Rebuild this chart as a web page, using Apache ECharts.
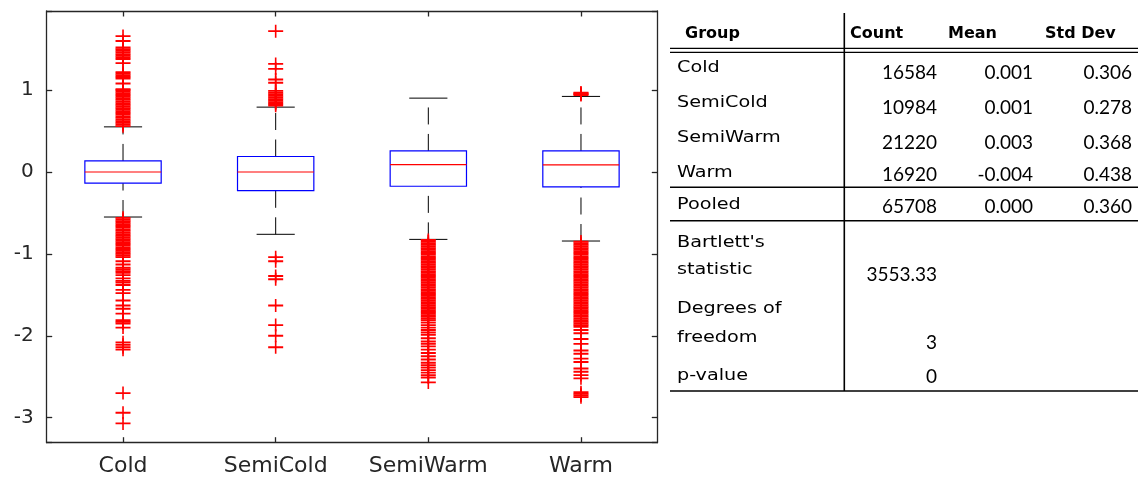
<!DOCTYPE html>
<html>
<head>
<meta charset="utf-8">
<script src="https://cdn.jsdelivr.net/npm/echarts@6/dist/echarts.min.js"></script>
<style>
  html, body { margin: 0; padding: 0; background: #ffffff; }
  #chart { width: 1144px; height: 479px; }
</style>
</head>
<body>
<div id="chart"></div>
<script>
// ---- box plot summary per group ----
const categories   = ['Cold', 'SemiCold', 'SemiWarm', 'Warm'];
const lowerWhisker = [-0.550, -0.761, -0.823, -0.843];
const quartile1    = [-0.137, -0.227, -0.174, -0.183];
const medians      = [0.000, 0.000, 0.091, 0.086];
const quartile3    = [0.135, 0.189, 0.257, 0.257];
const upperWhisker = [0.551, 0.792, 0.902, 0.923];

// ---- outliers per group ----
const coldOutliers = [
  0.56, 0.58, 0.60, 0.62, 0.64, 0.66, 0.68, 0.70, 0.72, 0.74, 0.76, 0.78, 0.80, 0.82,
  0.84, 0.86, 0.88, 0.90, 0.92, 0.94, 0.96, 0.98, 1.00, 1.01,
  1.08, 1.14, 1.16, 1.18, 1.20, 1.22, 1.33, 1.38, 1.40, 1.42, 1.44, 1.46, 1.48, 1.50,
  1.52, 1.60, 1.66,
  -0.56, -0.58, -0.60, -0.62, -0.64, -0.66, -0.68, -0.70, -0.72, -0.74, -0.76, -0.78,
  -0.80, -0.82, -0.84, -0.86, -0.88, -0.90, -0.92, -0.94, -0.96, -0.98, -1.00, -1.02, -1.04,
  -1.09, -1.13, -1.17, -1.19, -1.21, -1.23, -1.26, -1.30, -1.33, -1.35, -1.38, -1.44,
  -1.48, -1.57, -1.63, -1.67, -1.73, -1.81, -1.83, -1.85, -1.90, -2.08, -2.11, -2.14,
  -2.17, -2.70, -2.94, -3.07
];
const semiColdOutliers = [
  0.81, 0.83, 0.85, 0.87, 0.89, 0.91, 0.93, 0.95, 0.97, 0.99, 1.09, 1.13, 1.26, 1.32, 1.72,
  -1.04, -1.09, -1.27, -1.31, -1.63, -1.87, -2.00, -2.14
];
const semiWarmOutliers = [
  -0.83, -0.85, -0.87, -0.89, -0.91, -0.93, -0.95, -0.97, -0.99, -1.01, -1.03, -1.05,
  -1.07, -1.09, -1.11, -1.13, -1.15, -1.17, -1.19, -1.21, -1.23, -1.25, -1.27, -1.29,
  -1.31, -1.33, -1.35, -1.37, -1.39, -1.41, -1.43, -1.45, -1.47, -1.49, -1.51, -1.53,
  -1.55, -1.57, -1.59, -1.61, -1.63, -1.65, -1.67, -1.69, -1.71, -1.73, -1.75, -1.77,
  -1.79, -1.81, -1.84, -1.87, -1.90, -1.93, -1.96, -1.99, -2.03, -2.07, -2.10, -2.13,
  -2.17, -2.21, -2.25, -2.29, -2.33, -2.36, -2.39, -2.42, -2.45, -2.48, -2.51, -2.57
];
const warmOutliers = [
  0.94, 0.95, 0.96, 0.97,
  -0.85, -0.87, -0.89, -0.91, -0.93, -0.95, -0.97, -0.99, -1.01, -1.03, -1.05, -1.07,
  -1.09, -1.11, -1.13, -1.15, -1.17, -1.19, -1.21, -1.23, -1.25, -1.27, -1.29, -1.31,
  -1.33, -1.35, -1.37, -1.39, -1.41, -1.43, -1.45, -1.47, -1.49, -1.51, -1.53, -1.55,
  -1.57, -1.59, -1.61, -1.63, -1.65, -1.67, -1.69, -1.71, -1.73, -1.75, -1.77, -1.79,
  -1.81, -1.83, -1.85, -1.87, -1.89, -1.93, -1.97, -2.04, -2.10, -2.18, -2.22, -2.28,
  -2.32, -2.40, -2.44, -2.48, -2.52, -2.69, -2.71, -2.73, -2.75
];

// ---- value axis limits ----
const yMin = -3.306;
const yMax = 1.966;

// ---- summary table ----
const tableHeader = ['Group', 'Count', 'Mean', 'Std Dev'];
const groupNames  = ['Cold', 'SemiCold', 'SemiWarm', 'Warm'];
const groupCounts = ['16584', '10984', '21220', '16920'];
const groupMeans  = ['0.001', '0.001', '0.003', '-0.004'];
const groupStds   = ['0.306', '0.278', '0.368', '0.438'];
const pooledRow   = ['Pooled', '65708', '0.000', '0.360'];
const testLabels  = [["Bartlett's", 'statistic'], ['Degrees of', 'freedom'], ['p-value']];
const testValues  = ['3553.33', '3', '0'];

// ---------------------------------------------------------------
const chart = echarts.init(document.getElementById('chart'), null, { renderer: 'canvas' });

const AXIS_COLOR = '#262626';
const boxData = categories.map((c, i) =>
  [i, lowerWhisker[i], quartile1[i], medians[i], quartile3[i], upperWhisker[i]]);

const outlierGroups = [coldOutliers, semiColdOutliers, semiWarmOutliers, warmOutliers];
const outlierData = [];
outlierGroups.forEach((arr, i) => arr.forEach(v => outlierData.push([i, v])));

// plus-sign marker
const PLUS = 'path://M0,6H15V8H0Z M6.7,0H8.3V14H6.7Z';

function renderBox(params, api) {
  const i = api.value(0);
  const lw = api.value(1), q1 = api.value(2), md = api.value(3), q3 = api.value(4), uw = api.value(5);
  const x = api.coord([i, 0])[0];
  const band = api.size([1, 0])[0];
  const half = band * 0.25;
  const cap = band * 0.125;
  const Y = v => api.coord([i, v])[1];
  const dash = { stroke: '#000000', lineWidth: 1, lineDash: [17, 9.5] };
  const solid = { stroke: '#000000', lineWidth: 1 };
  return {
    type: 'group',
    children: [
      { type: 'line', shape: { x1: x, y1: Y(q3), x2: x, y2: Y(uw) }, style: dash },
      { type: 'line', shape: { x1: x, y1: Y(lw), x2: x, y2: Y(q1) }, style: dash },
      { type: 'line', shape: { x1: x - cap, y1: Y(uw), x2: x + cap, y2: Y(uw) }, style: solid },
      { type: 'line', shape: { x1: x - cap, y1: Y(lw), x2: x + cap, y2: Y(lw) }, style: solid },
      { type: 'rect', shape: { x: x - half, y: Y(q3), width: 2 * half, height: Y(q1) - Y(q3) },
        style: { fill: 'none', stroke: '#0000ff', lineWidth: 1.2 } },
      { type: 'line', shape: { x1: x - half, y1: Y(md), x2: x + half, y2: Y(md) },
        style: { stroke: '#ff0000', lineWidth: 1.2 } }
    ]
  };
}

// ---- table graphics ----
const graphics = [];
const LABEL_FONT = { fontFamily: 'DejaVu Sans', fontSize: 16, fill: '#000' };
const NUM_FONT = { fontFamily: 'Lato', fontSize: 19, fill: '#000' };
const HEAD_FONT = { fontFamily: 'DejaVu Sans', fontSize: 16, fontWeight: 'bold', fill: '#000' };
const LABEL_X = 677, LABEL_SCALE = 1.2;
const numRight = [937, 1033, 1132];

function label(text, y) {
  graphics.push({ type: 'text', x: LABEL_X, y: y, scaleX: LABEL_SCALE,
    style: Object.assign({ text: text, x: 0, y: 0, align: 'left', verticalAlign: 'middle' }, LABEL_FONT) });
}
function num(text, xr, y) {
  graphics.push({ type: 'text', x: xr, y: y,
    style: Object.assign({ text: text, align: 'right', verticalAlign: 'middle' }, NUM_FONT) });
}
function hline(y, w) {
  graphics.push({ type: 'line', shape: { x1: 670, y1: y, x2: 1138, y2: y },
    style: { stroke: '#000', lineWidth: w } });
}

const headX = [685, 850, 948, 1045];
tableHeader.forEach((h, k) => graphics.push({ type: 'text', x: headX[k], y: 34,
  style: Object.assign({ text: h, align: 'left', verticalAlign: 'middle' }, HEAD_FONT) }));

const labelY = [68.3, 103.3, 138.3, 172.5];
const valueY = [73, 108, 143, 175];
groupNames.forEach((g, r) => {
  label(g, labelY[r]);
  num(groupCounts[r], numRight[0], valueY[r]);
  num(groupMeans[r], numRight[1], valueY[r]);
  num(groupStds[r], numRight[2], valueY[r]);
});
label(pooledRow[0], 205);
pooledRow.slice(1).forEach((v, k) => num(v, numRight[k], 206.7));

const testLabelY = [[243, 270], [309, 337.7], [375.7]];
const testValueY = [275, 343.3, 377.3];
testLabels.forEach((lines, r) => {
  lines.forEach((t, j) => label(t, testLabelY[r][j]));
  num(testValues[r], numRight[0], testValueY[r]);
});

hline(48.3, 1.3);
hline(52.3, 1.3);
hline(187.3, 1.6);
hline(220.7, 1.6);
hline(391, 1.6);
graphics.push({ type: 'line', shape: { x1: 844.3, y1: 13, x2: 844.3, y2: 391 },
  style: { stroke: '#000', lineWidth: 1.6 } });

const axisLine = { show: true, onZero: false, lineStyle: { color: AXIS_COLOR, width: 1.3 } };
const tickIn = { show: true, inside: true, length: 5.5, lineStyle: { color: AXIS_COLOR, width: 1.3 } };
const intLabel = v => (Math.abs(v - Math.round(v)) < 1e-6 ? String(Math.round(v)) : '');

chart.setOption({
  animation: false,
  backgroundColor: '#ffffff',
  grid: { left: 46.7, right: 486.7, top: 11, bottom: 36.3, containLabel: false },
  xAxis: [
    {
      type: 'category', data: categories, position: 'bottom', boundaryGap: true,
      axisLine: axisLine,
      axisTick: Object.assign({ alignWithLabel: true, interval: 0 }, tickIn),
      axisLabel: { color: AXIS_COLOR, fontFamily: 'DejaVu Sans', fontSize: 22, margin: 13, interval: 0 },
      splitLine: { show: false }
    },
    {
      type: 'category', data: categories, position: 'top', boundaryGap: true,
      axisLine: axisLine,
      axisTick: Object.assign({ alignWithLabel: true, interval: 0 }, tickIn),
      axisLabel: { show: false }, splitLine: { show: false }
    }
  ],
  yAxis: [
    {
      type: 'value', min: yMin, max: yMax, minInterval: 1, maxInterval: 1, position: 'left',
      axisLine: axisLine, axisTick: tickIn,
      axisLabel: { color: AXIS_COLOR, fontFamily: 'DejaVu Sans', fontSize: 20, margin: 13, formatter: intLabel },
      splitLine: { show: false }
    },
    {
      type: 'value', min: yMin, max: yMax, minInterval: 1, maxInterval: 1, position: 'right',
      axisLine: axisLine, axisTick: tickIn,
      axisLabel: { show: false }, splitLine: { show: false }
    }
  ],
  series: [
    {
      type: 'custom', renderItem: renderBox, data: boxData, z: 2,
      encode: { x: 0, y: [1, 2, 3, 4, 5] }, silent: true
    },
    {
      type: 'scatter', data: outlierData, symbol: PLUS, symbolSize: [15, 13], z: 3,
      itemStyle: { color: '#ff0000', opacity: 1 }, silent: true
    }
  ],
  graphic: graphics
});
</script>
</body>
</html>
